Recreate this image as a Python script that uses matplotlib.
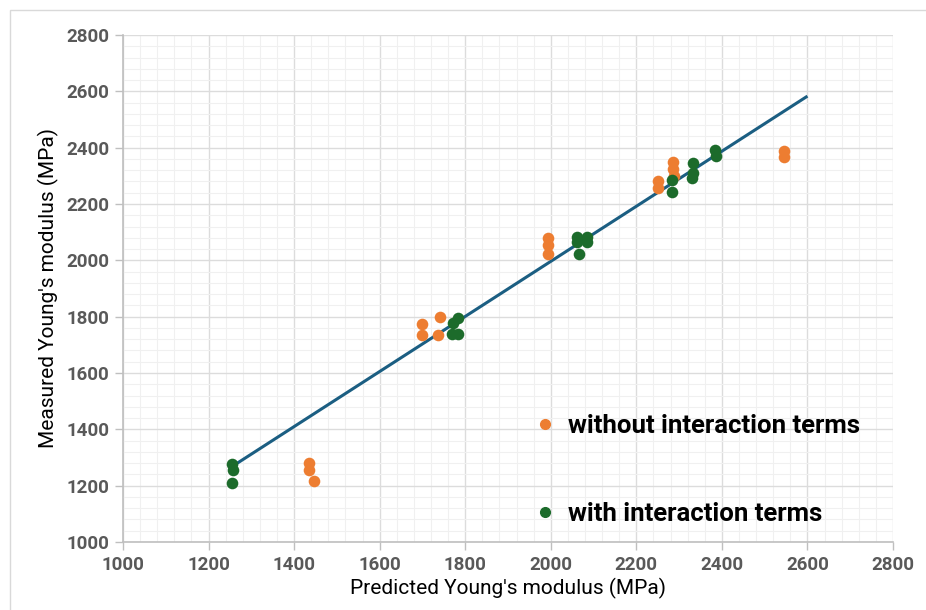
import numpy as np
import matplotlib.pyplot as plt
from matplotlib.ticker import MultipleLocator
from matplotlib.lines import Line2D
from matplotlib.patches import Rectangle

plt.rcParams['font.family'] = ['Roboto', 'DejaVu Sans']

# predicted vs measured Young's modulus (MPa)
pred_without = [1435, 1435, 1447, 1700, 1740, 1700, 1736, 1994, 1994, 1994,
                2251, 2251, 2285, 2285, 2287, 2545, 2545]
meas_without = [1280, 1256, 1218, 1774, 1800, 1735, 1735, 2079, 2054, 2021,
                2283, 2256, 2348, 2325, 2300, 2389, 2368]

pred_with = [1255, 1257, 1255, 1771, 1782, 1770, 1782, 2062, 2085, 2062, 2085,
             2065, 2283, 2283, 2333, 2333, 2331, 2383, 2387]
meas_with = [1277, 1256, 1211, 1778, 1795, 1740, 1738, 2084, 2084, 2066, 2066,
             2021, 2285, 2244, 2347, 2309, 2291, 2392, 2370]

fit_x = [1255, 2597]
fit_y = [1268, 2580]

orange = '#ED7D31'
green = '#1C6B2B'
blue = '#1B5E82'
grey = '#595959'

fig = plt.figure(figsize=(9.26, 6.10), dpi=100)
fig.patches.append(Rectangle((10 / 926, -0.1), 1.2, 1 - 10 / 610 + 0.1,
                             transform=fig.transFigure, fill=False,
                             edgecolor='#d9d9d9', linewidth=1.0))
ax = fig.add_axes([123 / 926, 1 - 542 / 610, (893 - 123) / 926, (542 - 35) / 610])

ax.plot(fit_x, fit_y, color=blue, linewidth=2.2, zorder=3)
ax.scatter(pred_without, meas_without, s=70, color=orange, zorder=4,
           linewidths=0)
ax.scatter(pred_with, meas_with, s=70, color=green, zorder=5, linewidths=0)

ax.set_xlim(1000, 2800)
ax.set_ylim(1000, 2800)
ax.xaxis.set_major_locator(MultipleLocator(200))
ax.yaxis.set_major_locator(MultipleLocator(200))
ax.xaxis.set_minor_locator(MultipleLocator(40))
ax.yaxis.set_minor_locator(MultipleLocator(40))
ax.grid(which='major', color='#dcdcdc', linewidth=1.0)
ax.grid(which='minor', color='#f0f0f0', linewidth=0.8)
ax.set_axisbelow(True)

for side in ['top', 'right']:
    ax.spines[side].set_visible(False)
for side in ['left', 'bottom']:
    ax.spines[side].set_color('#bfbfbf')
    ax.spines[side].set_linewidth(1.2)

ax.tick_params(which='major', length=6, width=1.0, color='#bfbfbf',
               labelsize=13.5, labelcolor=grey, pad=4)
ax.tick_params(which='minor', length=0)
for lbl in ax.get_xticklabels() + ax.get_yticklabels():
    lbl.set_fontweight('bold')

ax.set_xlabel("Predicted Young's modulus (MPa)", fontsize=15, labelpad=3)
ax.set_ylabel("Measured Young's modulus (MPa)", fontsize=15, labelpad=5)

handles = [Line2D([], [], marker='o', linestyle='', color=orange, markersize=7),
           Line2D([], [], marker='o', linestyle='', color=green, markersize=7)]
leg = ax.legend(handles, ['without interaction terms', 'with interaction terms'],
                loc='upper left', bbox_to_anchor=(0.503, 0.298), frameon=False,
                prop={'size': 18.5, 'weight': 'bold'}, labelspacing=2.5,
                handletextpad=0.45, handlelength=0.9)

fig.savefig('out.png', dpi=100)
